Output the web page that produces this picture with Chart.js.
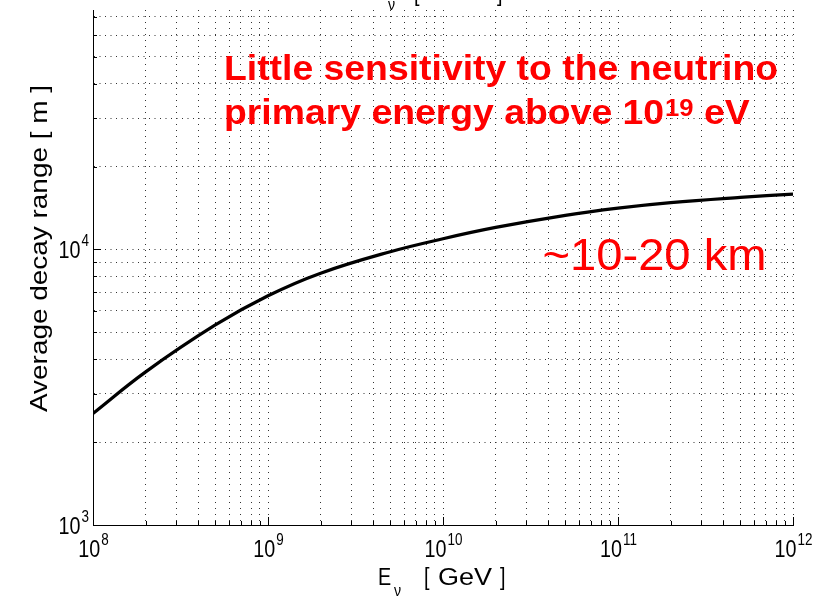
<!DOCTYPE html>
<html>
<head>
<meta charset="utf-8">
<script src="https://cdn.jsdelivr.net/npm/chart.js@4.4.0/dist/chart.umd.min.js"></script>
<style>
  body { margin: 0; background: #fff; }
  #wrap { width: 831px; height: 597px; position: relative; }
</style>
</head>
<body>
<div id="wrap"><canvas id="decayChart" width="831" height="597"></canvas></div>
<script>
// neutrino energy [GeV] and average decay range [m]
const energyGeV = [1e8, 2e8, 5e8, 1e9, 2e9, 5e9, 1e10, 2e10, 5e10, 1e11, 2e11, 5e11, 1e12]
const decayRange = [2541, 3597, 5321, 6792, 8204, 9817, 10940, 12023, 13305, 14125, 14791, 15453, 15885]

const xTickExps = [8, 9, 10, 11, 12]
const yTickExps = [3, 4]
const yTop = 74000

const xTitle = 'E'
const xTitleSub = 'ν'
const yTitle = 'Average decay range [ m ]'
const noteLine1 = 'Little sensitivity to the neutrino'
const noteLine2 = ['primary energy above 10', '19', ' eV']
const noteRange = '~10-20 km'

const FONT = '"Liberation Sans", Arial, Helvetica, sans-serif'
const GRID = '#333'
const RED = '#ff0000'

const keepDecadeTicks = (scale) => {
    scale.ticks = scale.ticks.filter((t) => {
        const m = t.value / Math.pow(10, Math.floor(Math.log10(t.value) + 1e-9))
        return Math.abs(m - Math.round(m)) < 1e-6
    })
}

const isMajor = (v) => Math.abs(Math.log10(v) - Math.round(Math.log10(v))) < 1e-6

// draw text squeezed horizontally by sx
const put = (ctx, s, x, y, px, sx, weight) => {
    ctx.save()
    ctx.font = `${weight || 'normal'} ${px}px ${FONT}`
    ctx.textAlign = 'left'
    ctx.textBaseline = 'alphabetic'
    ctx.translate(x, y)
    ctx.scale(sx, 1)
    ctx.fillText(s, 0, 0)
    const w = ctx.measureText(s).width * sx
    ctx.restore()
    return w
}

const measure = (ctx, s, px, sx, weight) => {
    ctx.save()
    ctx.font = `${weight || 'normal'} ${px}px ${FONT}`
    const w = ctx.measureText(s).width * sx
    ctx.restore()
    return w
}

const drawPow = (ctx, exp, x, y, align) => {
    const px = 23.5, sx = 0.84, epx = 16
    const wb = measure(ctx, '10', px, sx)
    const we = measure(ctx, String(exp), epx, sx)
    let x0 = x
    if (align === 'center') x0 = x - (wb + we) / 2
    if (align === 'right') x0 = x - (wb + we)
    put(ctx, '10', x0, y, px, sx)
    put(ctx, String(exp), x0 + wb + 1, y - 12, epx, sx)
}

const decor = {
    id: 'decor',
    afterDraw(chart) {
        const ctx = chart.ctx
        const xs = chart.scales.x
        const ys = chart.scales.y
        const area = chart.chartArea

        // inward tick marks
        ctx.save()
        ctx.strokeStyle = '#000'
        ctx.lineWidth = 1
        ctx.beginPath()
        xs.ticks.forEach((t) => {
            const px = Math.round(xs.getPixelForValue(t.value)) + 0.5
            const len = isMajor(t.value) ? 8 : 4
            ctx.moveTo(px, area.bottom)
            ctx.lineTo(px, area.bottom - len)
        })
        ys.ticks.forEach((t) => {
            const py = Math.round(ys.getPixelForValue(t.value)) + 0.5
            const len = isMajor(t.value) ? 8 : 4
            ctx.moveTo(area.left, py)
            ctx.lineTo(area.left + len, py)
        })
        ctx.stroke()
        ctx.restore()

        ctx.save()
        ctx.fillStyle = '#000'
        xTickExps.forEach((e) => {
            drawPow(ctx, e, xs.getPixelForValue(Math.pow(10, e)), 557, 'center')
        })
        yTickExps.forEach((e) => {
            drawPow(ctx, e, 88, ys.getPixelForValue(Math.pow(10, e)) + 8.5, 'right')
        })

        // x axis title
        put(ctx, xTitle, 378, 585, 23.5, 0.84)
        put(ctx, xTitleSub, 394, 596, 17, 0.84)
        put(ctx, '[', 424, 585, 23.5, 0.84)
        put(ctx, 'GeV', 438, 585, 23.5, 54 / measure(ctx, 'GeV', 23.5, 1))
        put(ctx, ']', 500, 585, 23.5, 0.84)

        // bottom of the panel above, cut off by the frame
        put(ctx, xTitle, 371, 0, 23.5, 0.84)
        put(ctx, xTitleSub, 388, 10, 17, 0.84)
        put(ctx, '[', 414, 1, 23.5, 0.84)
        put(ctx, ']', 497, 1, 23.5, 0.84)

        // y axis title
        ctx.save()
        ctx.translate(47, 248.5)
        ctx.rotate(-Math.PI / 2)
        ctx.font = `24px ${FONT}`
        const wy = ctx.measureText(yTitle).width
        ctx.scale(327 / wy, 1)
        ctx.textAlign = 'center'
        ctx.fillText(yTitle, 0, 0)
        ctx.restore()

        // red notes
        ctx.fillStyle = RED
        const npx = 35
        const nsx = 554 / measure(ctx, noteLine1, npx, 1, 'bold')
        put(ctx, noteLine1, 224, 80, npx, nsx, 'bold')
        let nx = 224
        nx += put(ctx, noteLine2[0], nx, 124, npx, nsx, 'bold')
        nx += put(ctx, noteLine2[1], nx + 1, 116, 24, nsx, 'bold') + 1
        put(ctx, noteLine2[2], nx, 124, npx, nsx, 'bold')

        const rpx = 44.5
        const rsx = 224 / measure(ctx, noteRange, rpx, 1)
        put(ctx, noteRange, 542.5, 270, rpx, rsx)
        ctx.restore()
    }
}

const canvas = document.getElementById('decayChart')
new Chart(canvas, {
    type: 'line',
    data: {
        datasets: [
            {
                data: energyGeV.map((e, i) => ({ x: e, y: decayRange[i] })),
                borderColor: '#000',
                borderWidth: 3.2,
                pointRadius: 0,
                tension: 0.4,
                fill: false
            }
        ]
    },
    options: {
        responsive: false,
        animation: false,
        layout: { padding: { left: 93, right: 38, top: 10, bottom: 72 } },
        plugins: { legend: { display: false }, tooltip: { enabled: false } },
        scales: {
            x: {
                type: 'logarithmic',
                min: 1e8,
                max: 1e12,
                ticks: { display: false, autoSkip: false },
                grid: { color: GRID, lineWidth: 1, drawTicks: false },
                border: { color: '#000', width: 1, dash: [1, 5] },
                afterBuildTicks: keepDecadeTicks,
                afterFit: (s) => { s.height = 0 }
            },
            y: {
                type: 'logarithmic',
                min: 1e3,
                max: yTop,
                ticks: { display: false, autoSkip: false },
                grid: { color: GRID, lineWidth: 1, drawTicks: false },
                border: { color: '#000', width: 1, dash: [1, 4.5] },
                afterBuildTicks: keepDecadeTicks,
                afterFit: (s) => { s.width = 0 }
            }
        }
    },
    plugins: [decor]
})
</script>
</body>
</html>
